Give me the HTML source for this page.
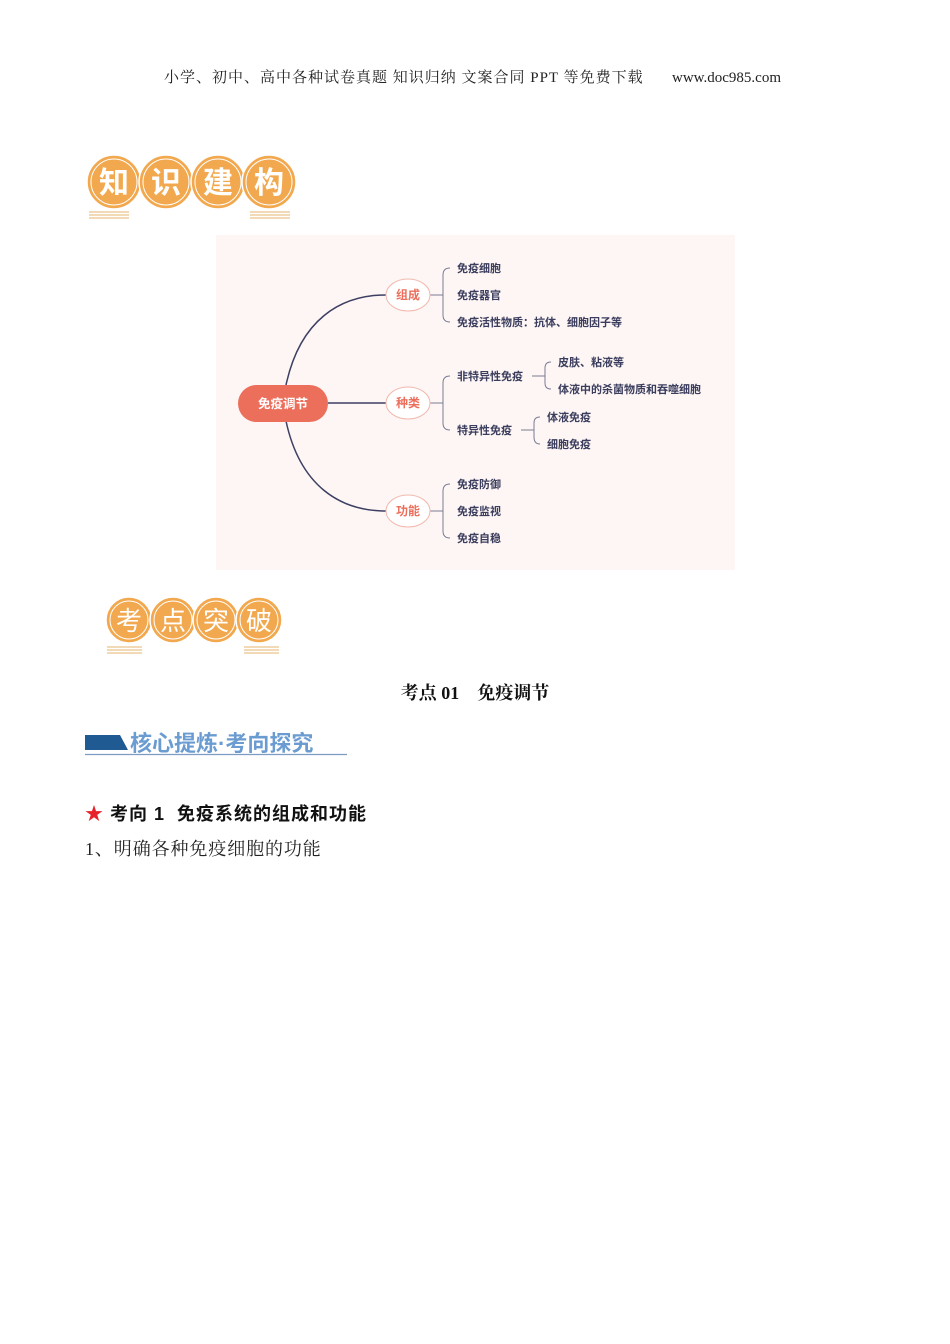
<!DOCTYPE html>
<html><head><meta charset="utf-8"><style>
body{margin:0;width:950px;height:1344px;background:#fff;position:relative;overflow:hidden;font-family:"Liberation Serif","Noto Serif CJK SC",serif}
.a{position:absolute;white-space:nowrap}
</style></head><body>
<div class="a" style="left:164px;top:68px;font-size:15px;line-height:20px;color:#222;letter-spacing:1px">小学、初中、高中各种试卷真题 知识归纳 文案合同 PPT 等免费下载</div>
<div class="a" style="left:672px;top:68px;font-size:15px;line-height:20px;color:#222;font-family:'Liberation Serif','Noto Serif CJK SC',serif">www.doc985.com<span style="visibility:hidden">载</span></div>

<svg class="a" style="left:0;top:0" width="950" height="1344">
<g font-family="Liberation Sans,Noto Sans CJK SC,sans-serif" font-weight="bold" text-anchor="middle">
<g fill="#f2a84e" stroke="#fff" stroke-width="1.5">
<circle cx="114" cy="182" r="27"/><circle cx="166" cy="182" r="27"/><circle cx="218" cy="182" r="27"/><circle cx="269" cy="182" r="27"/>
</g>
<g fill="none" stroke="#fff" stroke-width="1"><circle cx="114" cy="182" r="23"/><circle cx="166" cy="182" r="23"/><circle cx="218" cy="182" r="23"/><circle cx="269" cy="182" r="23"/></g>
<g fill="#fff" font-size="30"><text x="114" y="193">知</text><text x="166" y="193">识</text><text x="218" y="193">建</text><text x="269" y="193">构</text></g>
<g stroke="#e9c48a" stroke-width="1.2"><line x1="89" y1="212" x2="129" y2="212"/><line x1="89" y1="215" x2="129" y2="215"/><line x1="89" y1="218" x2="129" y2="218"/><line x1="250" y1="212" x2="290" y2="212"/><line x1="250" y1="215" x2="290" y2="215"/><line x1="250" y1="218" x2="290" y2="218"/></g>

<g fill="#f2a84e" stroke="#fff" stroke-width="1.5">
<circle cx="129" cy="620" r="23"/><circle cx="173" cy="620" r="23"/><circle cx="216" cy="620" r="23"/><circle cx="259" cy="620" r="23"/>
</g>
<g fill="none" stroke="#fff" stroke-width="1"><circle cx="129" cy="620" r="19"/><circle cx="173" cy="620" r="19"/><circle cx="216" cy="620" r="19"/><circle cx="259" cy="620" r="19"/></g>
<g fill="#fff" font-size="26" font-weight="normal"><text x="129" y="630">考</text><text x="173" y="630">点</text><text x="216" y="630">突</text><text x="259" y="630">破</text></g>
<g stroke="#e9c48a" stroke-width="1.2"><line x1="107" y1="647" x2="142" y2="647"/><line x1="107" y1="650" x2="142" y2="650"/><line x1="107" y1="653" x2="142" y2="653"/><line x1="244" y1="647" x2="279" y2="647"/><line x1="244" y1="650" x2="279" y2="650"/><line x1="244" y1="653" x2="279" y2="653"/></g>
</g>

<rect x="216" y="235" width="519" height="335" fill="#fdf6f4"/>
<g fill="none" stroke="#3d3f63" stroke-width="1.5">
<path d="M286 385 C300 320 340 295 386 295"/>
<path d="M286 421 C300 486 340 511 386 511"/>
<line x1="328" y1="403" x2="386" y2="403"/>
</g>
<g fill="none" stroke="#7a7c94" stroke-width="1">
<line x1="430" y1="295" x2="443" y2="295"/><path d="M450 268 Q443 268 443 275 L443 315 Q443 322 450 322"/>
<line x1="430" y1="403" x2="443" y2="403"/><path d="M450 376 Q443 376 443 383 L443 423 Q443 430 450 430"/>
<line x1="430" y1="511" x2="443" y2="511"/><path d="M450 484 Q443 484 443 491 L443 531 Q443 538 450 538"/>
<line x1="532" y1="376" x2="545" y2="376"/><path d="M551 362 Q545 362 545 368 L545 383 Q545 389 551 389"/>
<line x1="521" y1="430" x2="534" y2="430"/><path d="M540 417 Q534 417 534 423 L534 437 Q534 444 540 444"/>
</g>
<rect x="238" y="385" width="90" height="37" rx="18.5" fill="#ec6f5c"/>
<g fill="#fff" stroke="#f2b8ad" stroke-width="1"><ellipse cx="408" cy="295" rx="22" ry="16"/><ellipse cx="408" cy="403" rx="22" ry="16"/><ellipse cx="408" cy="511" rx="22" ry="16"/></g>
<g font-family="Liberation Sans,Noto Sans CJK SC,sans-serif" font-weight="bold" font-size="11" fill="#3b3d5e">
<text x="283" y="408" fill="#fff" font-size="12.5" text-anchor="middle">免疫调节</text>
<g fill="#ec6f5c" font-size="12" text-anchor="middle"><text x="408" y="299">组成</text><text x="408" y="407">种类</text><text x="408" y="515">功能</text></g>
<text x="457" y="272">免疫细胞</text><text x="457" y="299">免疫器官</text><text x="457" y="326">免疫活性物质：抗体、细胞因子等</text>
<text x="457" y="380">非特异性免疫</text><text x="457" y="434">特异性免疫</text>
<text x="558" y="366">皮肤、粘液等</text><text x="558" y="393">体液中的杀菌物质和吞噬细胞</text>
<text x="547" y="421">体液免疫</text><text x="547" y="448">细胞免疫</text>
<text x="457" y="488">免疫防御</text><text x="457" y="515">免疫监视</text><text x="457" y="542">免疫自稳</text>
</g>

<polygon points="85,735 120,735 128,750 85,750" fill="#1f5a92"/>
<text x="130" y="751" font-family="Liberation Sans,Noto Sans CJK SC,sans-serif" font-weight="bold" font-size="22" fill="#6a9bd1">核心提炼·考向探究</text>
<line x1="85" y1="754.5" x2="347" y2="754.5" stroke="#7d9cc2" stroke-width="1.2"/>
</svg>

<div class="a" style="left:0;width:950px;text-align:center;top:679px;font-size:18px;font-weight:bold;color:#111">考点 01&nbsp;&nbsp;&nbsp;&nbsp;免疫调节</div>
<div class="a" style="left:85px;top:800px;font-size:18px;font-weight:bold;color:#111;letter-spacing:1px;font-family:'Liberation Sans','Noto Sans CJK SC',sans-serif"><span style="color:#e8202a">★</span> 考向 1&nbsp; 免疫系统的组成和功能</div>
<div class="a" style="left:85px;top:835px;font-size:18px;color:#222;letter-spacing:0.9px">1、明确各种免疫细胞的功能</div>
</body></html>
